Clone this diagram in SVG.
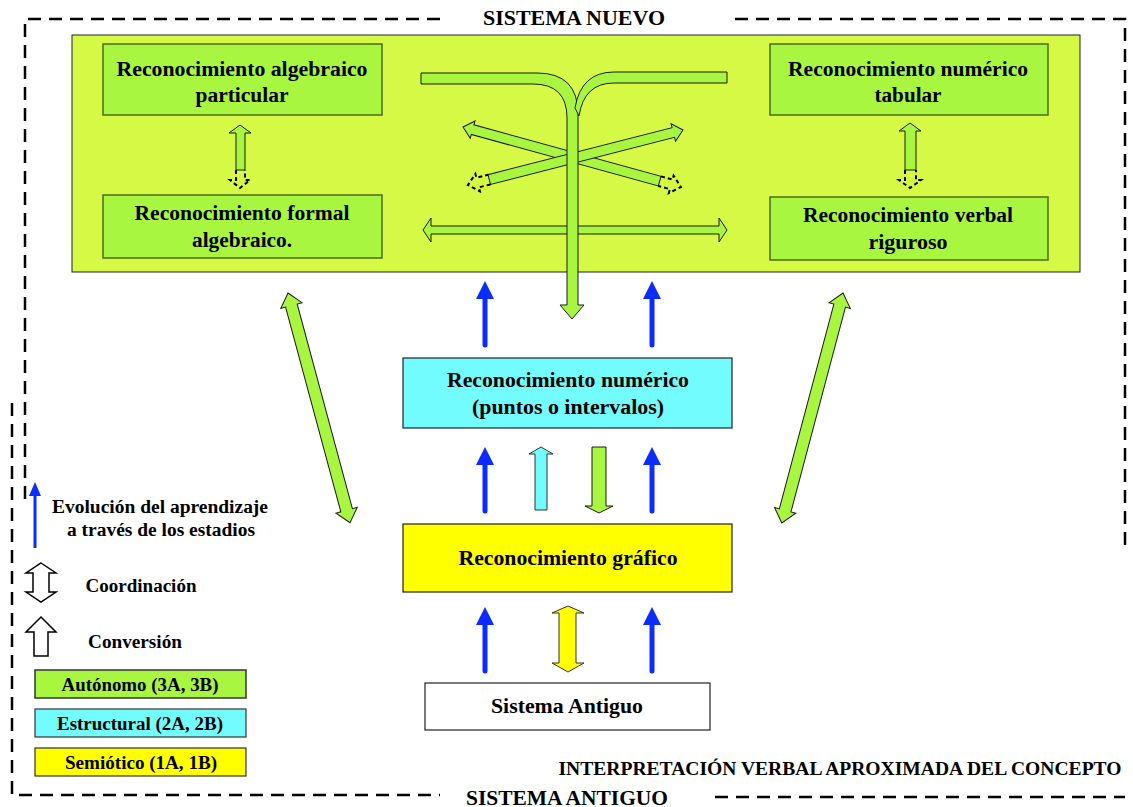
<svg xmlns="http://www.w3.org/2000/svg" width="1133" height="807" viewBox="0 0 1133 807">
<style>
text{font-family:"Liberation Serif","Times New Roman",serif;font-weight:bold;fill:#000;text-anchor:middle}
.t19{font-size:20px}
.t17{font-size:18px}
.dash{fill:none;stroke:#000;stroke-width:2.5;stroke-dasharray:13 8}
.main{fill:#d6f945;stroke:#222;stroke-width:1}
.gbox{fill:#a9f641;stroke:#4d6b1c;stroke-width:1.5}
.cyan{fill:#73fcfd;stroke:#222;stroke-width:1.2}
.yel{fill:#ffff00;stroke:#222;stroke-width:1.2}
.wht{fill:#fff;stroke:#222;stroke-width:1.2}
.ga{fill:#a9f641;stroke:#1a1a1a;stroke-width:1}
.ca{fill:#73fcfd;stroke:#333;stroke-width:1}
.ya{fill:#ffff00;stroke:#333;stroke-width:1}
.oa{fill:#fff;stroke:#000;stroke-width:1.5}
.dh{fill:none;stroke:#000;stroke-width:2;stroke-dasharray:4 3}
.bl{stroke:#0a2cff;stroke-width:5;stroke-linecap:round;fill:none}
.bh{fill:#0a2cff}
</style>
<defs>
<g id="blue">
<line class="bl" x1="0" y1="17" x2="0" y2="64"/>
<polygon class="bh" points="0,0 9,18 -9,18"/>
</g>
</defs>

<g id="frame">
<path class="dash" d="M440,19 H25 V505"/>
<path class="dash" d="M735,19 H1125 V545"/>
<path class="dash" d="M12,403 V795 H440"/>
<path class="dash" d="M715,797 H1125"/>
</g>

<g id="sistema-nuevo">
<rect class="main" x="72" y="35" width="1008" height="237"/>
</g>

<g id="titles">
<text class="t19" x="574" y="25" textLength="182" lengthAdjust="spacingAndGlyphs">SISTEMA NUEVO</text>
<text class="t17" x="840" y="775" textLength="563" lengthAdjust="spacingAndGlyphs">INTERPRETACIÓN VERBAL APROXIMADA  DEL CONCEPTO</text>
<text class="t19" x="567" y="805" textLength="202" lengthAdjust="spacingAndGlyphs">SISTEMA ANTIGUO</text>
</g>

<g id="node-alg-particular">
<rect class="gbox" x="103" y="44" width="279" height="71"/>
<text class="t19" x="242" y="76" textLength="251" lengthAdjust="spacingAndGlyphs">Reconocimiento  algebraico</text>
<text class="t19" x="242" y="102" textLength="93" lengthAdjust="spacingAndGlyphs">particular</text>
</g>
<g id="node-formal">
<rect class="gbox" x="103" y="195" width="279" height="63"/>
<text class="t19" x="242" y="220" textLength="215" lengthAdjust="spacingAndGlyphs">Reconocimiento formal</text>
<text class="t19" x="242" y="247" textLength="100" lengthAdjust="spacingAndGlyphs">algebraico.</text>
</g>
<g id="node-tabular">
<rect class="gbox" x="770" y="44" width="278" height="71"/>
<text class="t19" x="908" y="76" textLength="240" lengthAdjust="spacingAndGlyphs">Reconocimiento numérico</text>
<text class="t19" x="908" y="102" textLength="67" lengthAdjust="spacingAndGlyphs">tabular</text>
</g>
<g id="node-verbal">
<rect class="gbox" x="770" y="197" width="278" height="63"/>
<text class="t19" x="908" y="222" textLength="210" lengthAdjust="spacingAndGlyphs">Reconocimiento verbal</text>
<text class="t19" x="908" y="249" textLength="79" lengthAdjust="spacingAndGlyphs">riguroso</text>
</g>
<g id="node-numerico">
<rect class="cyan" x="403" y="358" width="329" height="70"/>
<text class="t19" x="568" y="387" textLength="242" lengthAdjust="spacingAndGlyphs">Reconocimiento numérico</text>
<text class="t19" x="568" y="414" textLength="192" lengthAdjust="spacingAndGlyphs">(puntos o intervalos)</text>
</g>
<g id="node-grafico">
<rect class="yel" x="403" y="524" width="329" height="68"/>
<text class="t19" x="568" y="565" textLength="219" lengthAdjust="spacingAndGlyphs">Reconocimiento gráfico</text>
</g>
<g id="node-antiguo">
<rect class="wht" x="425" y="683" width="285" height="47"/>
<text class="t19" x="567" y="713" textLength="152" lengthAdjust="spacingAndGlyphs">Sistema Antiguo</text>
</g>

<g id="connectors">
<!-- X arrows -->
<g transform="translate(463,127) rotate(15.4)">
<path class="ga" d="M0,0 L10,-9 L10,-5 L204,-5 L204,5 L10,5 L10,9 Z"/>
<path class="dh" d="M204,-5 L216,-5 L216,-9 L226,0 L216,9 L216,5 L204,5"/>
</g>
<g transform="translate(683,130) rotate(165.65)">
<path class="ga" d="M0,0 L10,-9 L10,-5 L200,-5 L200,5 L10,5 L10,9 Z"/>
<path class="dh" d="M200,-5 L212,-5 L212,-9 L222,0 L212,9 L212,5 L200,5"/>
</g>
<!-- horizontal double arrow -->
<path class="ga" d="M423,230 L431,218 L431,226 L719,226 L719,218 L727,230 L719,242 L719,234 L431,234 L431,242 Z"/>
<!-- tree arrow -->
<path class="ga" d="M421,73 H537 Q578,73 578,114 V305 H584 L572,319 L560,305 H567 V118 Q567,84 533,84 H421 Z"/>
<path class="ga" d="M727,72 H614 Q581,72 575,108 L579,116 Q584,83 614,83 H727 Z"/>
<!-- vertical double arrows in box -->
<path class="ga" d="M240,125 L251,133 L245,133 L245,170 L236,170 L236,133 L229,133 Z"/>
<path class="dh" d="M236,170 L236,180 L230,180 L240,188 L250,180 L245,180 L245,170"/>
<path class="ga" d="M910,123 L921,131 L916,131 L916,170 L905,170 L905,131 L899,131 Z"/>
<path class="dh" d="M905,170 L905,180 L899,180 L910,188 L921,180 L916,180 L916,170"/>
<!-- diagonal double arrows -->
<path class="ga" transform="translate(288,293) rotate(74.9)" d="M0,0 L13,-11 L13,-6 L225,-6 L225,-11 L238,0 L225,11 L225,6 L13,6 L13,11 Z"/>
<path class="ga" transform="translate(843,293) rotate(104.9)" d="M0,0 L13,-11 L13,-6 L225,-6 L225,-11 L238,0 L225,11 L225,6 L13,6 L13,11 Z"/>
<!-- blue arrows -->
<use href="#blue" x="485" y="281"/>
<use href="#blue" x="652" y="281"/>
<use href="#blue" x="485" y="447"/>
<use href="#blue" x="652" y="447"/>
<use href="#blue" x="485" y="607"/>
<use href="#blue" x="652" y="607"/>
<!-- cyan up arrow -->
<path class="ca" d="M541,447 L553,454 L547,454 L547,510 L535,510 L535,454 L529,454 Z"/>
<!-- green down arrow -->
<path class="ga" d="M592,447 H606 V506 H613 L599,513 L585,506 H592 Z"/>
<!-- yellow double arrow -->
<path class="ya" d="M568,606 L584,613 L576,613 L576,663 L584,663 L568,672 L552,663 L559,663 L559,613 L552,613 Z"/>
</g>

<g id="legend">
<line x1="35" y1="495" x2="35" y2="548" stroke="#0a2cff" stroke-width="3"/>
<polygon class="bh" points="35,482 41,496 29,496"/>
<text class="t17" x="160" y="513" textLength="216" lengthAdjust="spacingAndGlyphs">Evolución del aprendizaje</text>
<text class="t17" x="161" y="536" textLength="188" lengthAdjust="spacingAndGlyphs">a través de los estadios</text>
<path class="oa" d="M41,563 L56,573 L49,573 L49,592 L56,592 L41,602 L26,592 L33,592 L33,573 L26,573 Z"/>
<text class="t17" x="141" y="592" textLength="111" lengthAdjust="spacingAndGlyphs">Coordinación</text>
<path class="oa" d="M41,617 L56,632 L48,632 L48,656 L34,656 L34,632 L26,632 Z"/>
<text class="t17" x="135" y="648" textLength="94" lengthAdjust="spacingAndGlyphs">Conversión</text>
<g id="legend-autonomo">
<rect class="gbox" x="35" y="670" width="211" height="28" style="stroke:#333"/>
<text class="t17" x="140" y="691" textLength="157" lengthAdjust="spacingAndGlyphs">Autónomo (3A, 3B)</text>
</g>
<g id="legend-estructural">
<rect class="cyan" x="35" y="709" width="211" height="28" style="stroke:#333"/>
<text class="t17" x="140" y="730" textLength="166" lengthAdjust="spacingAndGlyphs">Estructural (2A, 2B)</text>
</g>
<g id="legend-semiotico">
<rect class="yel" x="35" y="748" width="211" height="28" style="stroke:#333"/>
<text class="t17" x="141" y="769" textLength="152" lengthAdjust="spacingAndGlyphs">Semiótico (1A, 1B)</text>
</g>
</g>
</svg>
